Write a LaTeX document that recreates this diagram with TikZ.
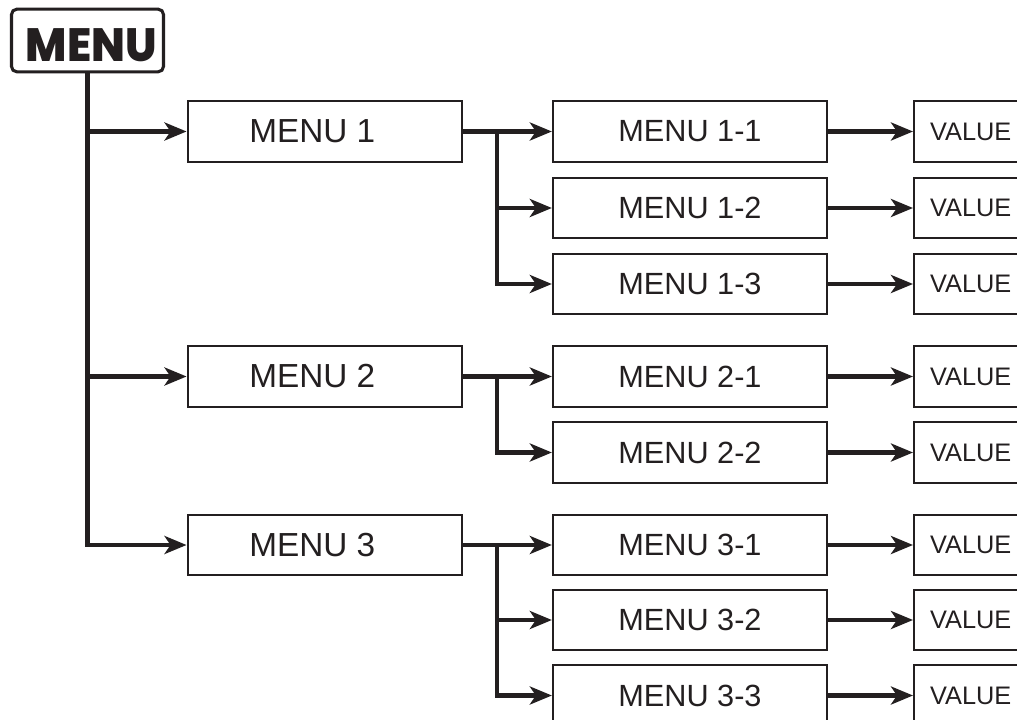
\documentclass[tikz,border=0pt]{standalone}
\usepackage{fontspec}
\setmainfont{Liberation Sans}
\newfontfamily\titlefont{Poppins}[UprightFont={* ExtraBold}]
\usetikzlibrary{arrows.meta,calc}
\definecolor{ink}{RGB}{35,31,32}
\begin{document}
\begin{tikzpicture}[x=0.75pt,y=-0.75pt,
  titlebox/.style={draw=ink,line width=2.3pt,rounded corners=4pt,minimum width=114pt,minimum height=47pt,inner sep=0pt,text height=32pt,text depth=0pt,text=ink,font=\titlefont\fontsize{35}{35}\selectfont},
  mainbox/.style={draw=ink,line width=1.7pt,minimum width=206pt,minimum height=45.5pt,inner sep=0pt,text=ink,font=\fontsize{25}{25}\selectfont},
  subbox/.style={draw=ink,line width=1.7pt,minimum width=205.5pt,minimum height=45.5pt,inner sep=0pt,text=ink,font=\fontsize{23}{23}\selectfont},
  valbox/.style={draw=ink,line width=1.7pt,minimum width=160pt,minimum height=45.5pt,inner ysep=0pt,inner xsep=12pt,text=ink,font=\fontsize{19}{19}\selectfont,text width=136pt,align=left,anchor=west},
  conn/.style={draw=ink,line width=3.2pt},
  arr/.style={conn,-{Stealth[length=16.5pt,width=13.5pt,inset=4.5pt]}}]
\useasboundingbox (0,0) rectangle (1017,720);
\clip (0,0) rectangle (1017,720);
\fill[white] (0,0) rectangle (1017,720);
% title
\node[titlebox] (title) at (87.5,40.5) {\kern6pt\scalebox{0.95}[1]{MENU}};
% main menus
\node[mainbox] (m1) at (325,131.5) {MENU 1\kern19pt};
\node[mainbox] (m2) at (325,376.5) {MENU 2\kern19pt};
\node[mainbox] (m3) at (325,545) {MENU 3\kern19pt};
% sub menus
\node[subbox] (s11) at (690,131.5) {MENU 1-1};
\node[subbox] (s12) at (690,208) {MENU 1-2};
\node[subbox] (s13) at (690,284) {MENU 1-3};
\node[subbox] (s21) at (690,376.5) {MENU 2-1};
\node[subbox] (s22) at (690,452.5) {MENU 2-2};
\node[subbox] (s31) at (690,545) {MENU 3-1};
\node[subbox] (s32) at (690,620) {MENU 3-2};
\node[subbox] (s33) at (690,695.5) {MENU 3-3};
% values
\foreach \s/\v in {s11/v11,s12/v12,s13/v13,s21/v21,s22/v22,s31/v31,s32/v32,s33/v33}{
  \node[valbox] (\v) at ($(\s.center)+(223,0)$) {VALUE};
  \draw[arr] (\s.east) -- (\v.west);
}
% trunk
\draw[conn] (title.south) |- ($(m3.west)+(-10,0)$);
\draw[arr] (title.south |- m3.west) -- (m3.west);
\draw[arr] (title.south |- m1.west) -- (m1.west);
\draw[arr] (title.south |- m2.west) -- (m2.west);
% branches
\coordinate (bx) at (497,0);
\draw[arr] (m1.east) -- (s11.west);
\draw[arr] (bx |- m1.east) |- (s13.west);
\draw[arr] (bx |- s12.west) -- (s12.west);
\draw[arr] (m2.east) -- (s21.west);
\draw[arr] (bx |- m2.east) |- (s22.west);
\draw[arr] (m3.east) -- (s31.west);
\draw[arr] (bx |- m3.east) |- (s33.west);
\draw[arr] (bx |- s32.west) -- (s32.west);
\end{tikzpicture}
\end{document}
